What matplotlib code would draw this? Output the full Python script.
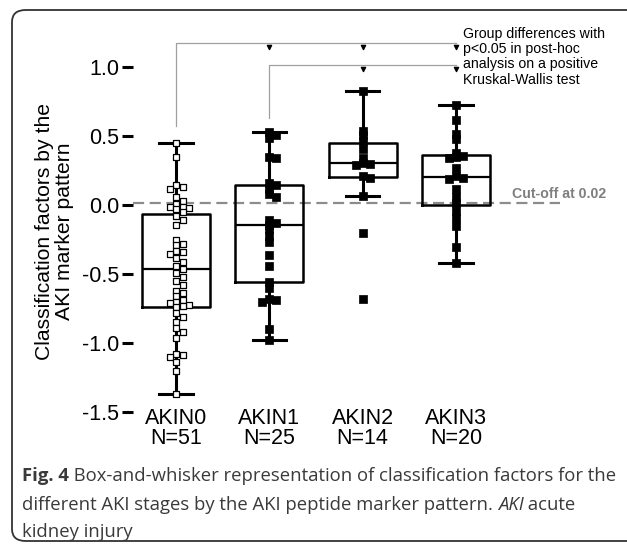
import numpy as np
import matplotlib
matplotlib.use("Agg")
import matplotlib.pyplot as plt
from matplotlib.patches import FancyBboxPatch

# classification factors
groups = ["AKIN0", "AKIN1", "AKIN2", "AKIN3"]
counts = [51, 25, 14, 20]

akin0 = [0.45, 0.35, 0.15, 0.13, 0.12, 0.06, 0.03, 0.01, -0.01, -0.01, -0.02, -0.03, -0.05,
         -0.08, -0.11, -0.14, -0.25, -0.28, -0.29, -0.33, -0.34, -0.35, -0.38, -0.41, -0.44,
         -0.46,
         -0.49, -0.52, -0.55, -0.58, -0.62, -0.64, -0.66, -0.69, -0.70, -0.71, -0.72, -0.73,
         -0.74,
         -0.78, -0.81, -0.85, -0.89, -0.92, -0.96, -1.08, -1.09, -1.10, -1.14, -1.20, -1.37]
akin1 = [0.53, 0.51, 0.49, 0.35, 0.34, 0.16, 0.15, 0.12, 0.08, 0.06, -0.11, -0.13, -0.14,
         -0.17, -0.22, -0.27, -0.36, -0.44, -0.56, -0.60, -0.68, -0.69, -0.70, -0.90, -0.98]
akin2 = [0.83, 0.54, 0.51, 0.47, 0.41, 0.34, 0.31, 0.30, 0.29, 0.21, 0.20, 0.07, -0.20, -0.68]
akin3 = [0.73, 0.62, 0.52, 0.48, 0.38, 0.36, 0.35, 0.34, 0.27, 0.21, 0.20, 0.19, 0.12, 0.06,
         0.02, -0.04, -0.09, -0.15, -0.30, -0.42]
data = [akin0, akin1, akin2, akin3]

cutoff = 0.02
yticks = [1.0, 0.5, 0.0, -0.5, -1.0, -1.5]

W, H = 627, 544
fig = plt.figure(figsize=(W / 100, H / 100), dpi=100)
plt.rcParams['font.family'] = ['Liberation Sans', 'DejaVu Sans']

# axes placed in pixels
left_px, right_px, top_px, bot_px = 133, 620, 20, 412
ax = fig.add_axes([left_px / W, 1 - bot_px / H, (right_px - left_px) / W, (bot_px - top_px) / H])
x0_px, step_px = 176, 93.3
ax.set_xlim((left_px - x0_px) / step_px, (right_px - x0_px) / step_px)
ax.set_ylim(-1.5, (205 - top_px) / 137.6)
px_per_y = 137.6

ax.boxplot(data, positions=range(4), widths=0.73, whis=1.5, showfliers=False,
           capwidths=0.36,
           boxprops=dict(color="black", linewidth=1.8),
           whiskerprops=dict(color="black", linewidth=2.2),
           capprops=dict(color="black", linewidth=2.2),
           medianprops=dict(color="black", linewidth=1.6),
           zorder=2)


def swarm(values, size, dy_min):
    placed, offs = [], []
    for v in values:
        y = v * px_per_y
        k = 0
        done = False
        while not done:
            for c in ([0] if k == 0 else [k, -k]):
                x = c * size
                if all(abs(x - px) >= size or abs(y - py) >= dy_min for px, py in placed):
                    placed.append((x, y))
                    offs.append(x / step_px)
                    done = True
                    break
            k += 1
    return np.array(offs)


for i, vals in enumerate(data):
    if i == 0:
        offs = swarm(vals, 6.5, 5)
        ax.scatter(i + offs, vals, marker="s", s=22, facecolor="white", edgecolor="black",
                   linewidth=0.9, zorder=4)
    else:
        offs = swarm(vals, 7, 3.5)
        ax.scatter(i + offs, vals, marker="s", s=30, facecolor="black", edgecolor="black",
                   linewidth=0.5, zorder=4)

# cut-off line
ax.plot([ax.get_xlim()[0], 4.115], [cutoff, cutoff], color="#8c8c8c", lw=1.6,
        dashes=(5, 2.5), zorder=1, clip_on=False)
ax.text(3.6, cutoff + 0.06, "Cut-off at 0.02", color="#7f7f7f", fontsize=10.2,
        fontweight="bold", va="center", ha="left")

# significance brackets
br_col = "#a0a0a0"
ax.plot([0, 0, 3], [0.574, 1.177, 1.177], color=br_col, lw=0.9, zorder=1)
ax.plot([1, 1, 3], [0.632, 1.017, 1.017], color=br_col, lw=0.9, zorder=1)
ax.scatter([1, 2, 3], [1.15] * 3, marker="v", s=9, color="black", zorder=3)
ax.scatter([2, 3], [0.99] * 2, marker="v", s=9, color="black", zorder=3)
ax.text(3.08, 1.295, "Group differences with\np<0.05 in post-hoc\nanalysis on a positive\nKruskal-Wallis test",
        fontsize=10.2, va="top", ha="left", linespacing=1.12)

for s in ax.spines.values():
    s.set_visible(False)
ax.set_yticks(yticks)
ax.set_yticklabels([f"{t:.1f}" for t in yticks])
ax.tick_params(axis="y", length=8, width=2.2, pad=2, labelsize=15.5)
ax.set_xticks(range(4))
ax.set_xticklabels([f"{g}\nN={n}" for g, n in zip(groups, counts)], fontsize=15.5,
                   linespacing=0.92)
ax.tick_params(axis="x", length=0, pad=-3)
ax.set_ylabel("Classification factors by the\nAKI marker pattern", fontsize=15.2,
              linespacing=1.05)
ax.yaxis.set_label_coords((74 - left_px) / (right_px - left_px), 0.46)

# outer rounded frame
frame = FancyBboxPatch((12 / W, 1 - 541 / H), 640 / W, 531 / H,
                       boxstyle="round,pad=0,rounding_size=0.022", transform=fig.transFigure,
                       facecolor="none", edgecolor="#333333", lw=1.3)
fig.patches.append(frame)

# caption with mixed styles
renderer = fig.canvas.get_renderer()
cap_col = "#3a3a3a"
cap_font = ["Open Sans", "DejaVu Sans"]
cap_size = 13.3


def runs(x_px, y_px, parts):
    x = x_px
    for txt, kw in parts:
        t = fig.text(x / W, 1 - y_px / H, txt, fontsize=cap_size, color=cap_col,
                     family=cap_font, va="baseline", ha="left", **kw)
        bb = t.get_window_extent(renderer)
        x += bb.width


runs(22, 481, [("Fig. 4", dict(fontweight="bold")),
               (" Box-and-whisker representation of classification factors for the", {})])
runs(22, 510, [("different AKI stages by the AKI peptide marker pattern. ", {}),
               ("AKI", dict(style="italic")), (" acute", {})])
runs(22, 537, [("kidney injury", {})])

fig.savefig("out.png", dpi=100)
